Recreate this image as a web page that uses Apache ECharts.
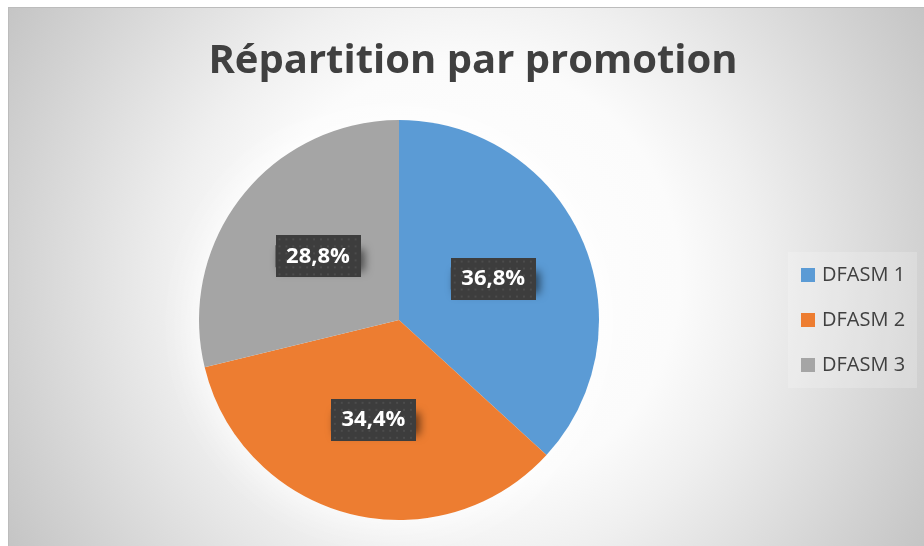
<!DOCTYPE html>
<html>
<head>
<meta charset="utf-8">
<script src="https://cdn.jsdelivr.net/npm/echarts@6/dist/echarts.min.js"></script>
<style>
  html, body { margin: 0; padding: 0; background: #fff; }
  #frame {
    position: absolute; left: 8px; top: 7px;
    width: 920px; height: 545px;
    border-top: 1px solid #bcbcbc; border-left: 1px solid #bcbcbc;
  }
  #main { width: 915px; height: 538px; }
</style>
</head>
<body>
<div id="frame"><div id="main"></div></div>
<script>
// données du graphique
var titre = 'Répartition par promotion'
var promotions = ['DFASM 1', 'DFASM 2', 'DFASM 3']
var parts = [36.8, 34.4, 28.8]
var couleurs = ['#5b9bd5', '#ed7d31', '#a5a5a5']

// petit motif pointillé pour le fond des étiquettes
function motif() {
  var c = document.createElement('canvas')
  c.width = 86
  c.height = 42
  var ctx = c.getContext('2d')
  ctx.fillStyle = '#3d3d3d'
  ctx.fillRect(0, 0, c.width, c.height)
  ctx.fillStyle = '#4c4c4c'
  for (var x = 3; x < c.width; x += 7) {
    for (var y = 3; y < c.height; y += 7) {
      ctx.fillRect(x, y, 2, 2)
    }
  }
  return c
}

var chart = echarts.init(document.getElementById('main'))

chart.setOption({
  backgroundColor: {
    type: 'radial', x: 457, y: 268, r: 535, global: true,
    colorStops: [
      { offset: 0, color: '#ffffff' },
      { offset: 0.4, color: '#fbfbfb' },
      { offset: 0.55, color: '#efefef' },
      { offset: 0.85, color: '#d2d2d2' },
      { offset: 1, color: '#c4c4c4' }
    ]
  },
  color: couleurs,
  title: {
    text: titre,
    left: 459,
    textAlign: 'center',
    top: 29,
    textStyle: {
      fontFamily: 'Open Sans',
      fontWeight: 'bold',
      fontSize: 40,
      color: '#404040'
    }
  },
  legend: {
    data: promotions,
    orient: 'vertical',
    left: 779,
    top: 244,
    padding: [13, 12, 13, 13],
    backgroundColor: 'rgba(255,255,255,0.2)',
    icon: 'rect',
    itemWidth: 14,
    itemHeight: 14,
    itemGap: 25,
    textStyle: {
      fontFamily: 'Open Sans',
      fontSize: 20,
      lineHeight: 20,
      color: '#404040',
      padding: [0, 0, 0, 2]
    }
  },
  series: [
    {
      // halo blanc derrière le camembert
      type: 'pie',
      silent: true,
      center: [390, 312],
      radius: 200,
      z: 1,
      label: { show: false },
      labelLine: { show: false },
      itemStyle: {
        color: '#ffffff',
        shadowBlur: 45,
        shadowColor: 'rgba(255,255,255,1)'
      },
      data: [{ value: 1, name: '' }]
    },
    {
      type: 'pie',
      center: [390, 312],
      radius: 200,
      startAngle: 90,
      clockwise: true,
      z: 2,
      itemStyle: { borderWidth: 0 },
      labelLine: { show: false },
      label: {
        show: true,
        position: 'inside',
        formatter: function(p) {
          return '{v|' + p.value.toFixed(1).replace('.', ',') + '%}'
        },
        padding: 0,
        backgroundColor: '#3d3d3d',
        shadowColor: 'rgba(0,0,0,0.55)',
        shadowBlur: 8,
        shadowOffsetX: 4,
        shadowOffsetY: 4,
        rich: {
          v: {
            fontFamily: 'Open Sans',
            fontWeight: 'bold',
            fontSize: 22,
            lineHeight: 22,
            color: '#ffffff',
            width: 85,
            align: 'center',
            padding: [10, 0],
            backgroundColor: { image: motif() }
          }
        }
      },
      emphasis: { disabled: true },
      data: promotions.map(function(n, i) {
        return { name: n, value: parts[i] }
      })
    }
  ]
})
</script>
</body>
</html>
